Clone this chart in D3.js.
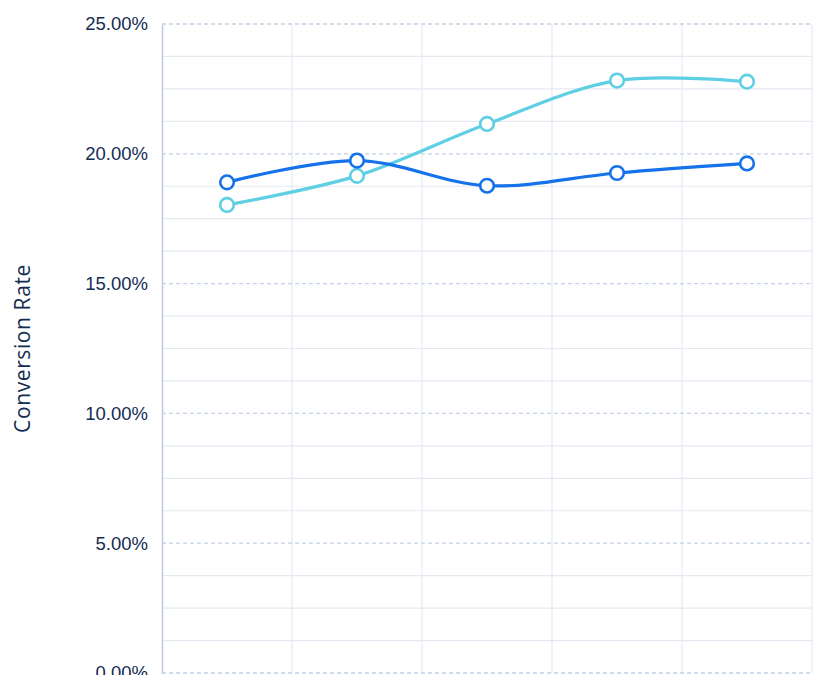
<!DOCTYPE html>
<html>
<head>
<meta charset="utf-8">
<script src="https://cdn.jsdelivr.net/npm/d3@7"></script>
<style>
  html, body { margin: 0; padding: 0; background: #fff; overflow: hidden; }
  svg { display: block; font-family: "Open Sans", "Noto Sans", sans-serif; }
</style>
</head>
<body>
<div id="chart"></div>
<script>
// categories along x (labels sit below the visible area)
const categories = ["Week 1", "Week 2", "Week 3", "Week 4", "Week 5"];
// conversion rate, percent
const seriesA = [18.90, 19.74, 18.77, 19.26, 19.63];
const seriesB = [18.03, 19.15, 21.15, 22.82, 22.78];
const yTicks = [0, 5, 10, 15, 20, 25];
const yTitle = "Conversion Rate";

const width = 831, height = 675;
const margin = {top: 24, right: 19, bottom: 2, left: 162};

const svg = d3.select("#chart")
  .append("svg")
    .attr("width", width)
    .attr("height", height);

const x = d3.scaleBand()
  .domain(categories)
  .range([margin.left, width - margin.right])
  .padding(0);

const y = d3.scaleLinear()
  .domain([0, 25])
  .range([height - margin.bottom, margin.top]);

// minor horizontal grid
const minor = d3.range(0, 25.001, 1.25).filter(v => !yTicks.includes(v));
svg.append("g")
  .selectAll("line")
  .data(minor)
  .join("line")
    .attr("x1", margin.left).attr("x2", width - margin.right)
    .attr("y1", d => y(d)).attr("y2", d => y(d))
    .attr("stroke", "#e4e9f1")
    .attr("stroke-width", 1.2);

// vertical grid at band edges
const edges = categories.map(c => x(c)).concat([x(categories[categories.length - 1]) + x.bandwidth()]);
svg.append("g")
  .selectAll("line")
  .data(edges.slice(1))
  .join("line")
    .attr("x1", d => d).attr("x2", d => d)
    .attr("y1", margin.top).attr("y2", height - margin.bottom)
    .attr("stroke", "#e4e9f1")
    .attr("stroke-width", 1.2);

// major dashed grid
svg.append("g")
  .selectAll("line")
  .data(yTicks)
  .join("line")
    .attr("x1", margin.left).attr("x2", width - margin.right)
    .attr("y1", d => y(d)).attr("y2", d => y(d))
    .attr("stroke", "#c3d2e6")
    .attr("stroke-width", 1.3)
    .attr("stroke-dasharray", "4,3");

// y axis
const yAxis = svg.append("g")
  .attr("transform", `translate(${margin.left},0)`)
  .call(d3.axisLeft(y).tickValues(yTicks).tickSize(0).tickPadding(14)
    .tickFormat(d => d.toFixed(2) + "%"));
yAxis.select(".domain")
  .attr("stroke", "#bccbe0")
  .attr("stroke-width", 1.5);
yAxis.selectAll("text")
  .attr("fill", "#132d52")
  .style("font-size", "18.5px");

svg.append("text")
  .attr("transform", `translate(30,${(margin.top + height - margin.bottom) / 2}) rotate(-90)`)
  .attr("text-anchor", "middle")
  .attr("fill", "#132d52")
  .style("font-size", "21px")
  .style("letter-spacing", "0.6px")
  .text(yTitle);

// lines + markers
const line = d3.line()
  .x((d, i) => x(categories[i]) + x.bandwidth() / 2)
  .y(d => y(d))
  .curve(d3.curveCatmullRom.alpha(0.5));

const series = [
  {values: seriesB, color: "#5fcfe4"},
  {values: seriesA, color: "#1672ea"}
];

series.forEach(s => {
  svg.append("path")
    .datum(s.values)
    .attr("fill", "none")
    .attr("stroke", s.color)
    .attr("stroke-width", 3.2)
    .attr("d", line);
});

series.forEach(s => {
  svg.append("g")
    .selectAll("circle")
    .data(s.values)
    .join("circle")
      .attr("cx", (d, i) => x(categories[i]) + x.bandwidth() / 2)
      .attr("cy", d => y(d))
      .attr("r", 6.8)
      .attr("fill", "#fff")
      .attr("stroke", s.color)
      .attr("stroke-width", 2.6);
});
</script>
</body>
</html>
